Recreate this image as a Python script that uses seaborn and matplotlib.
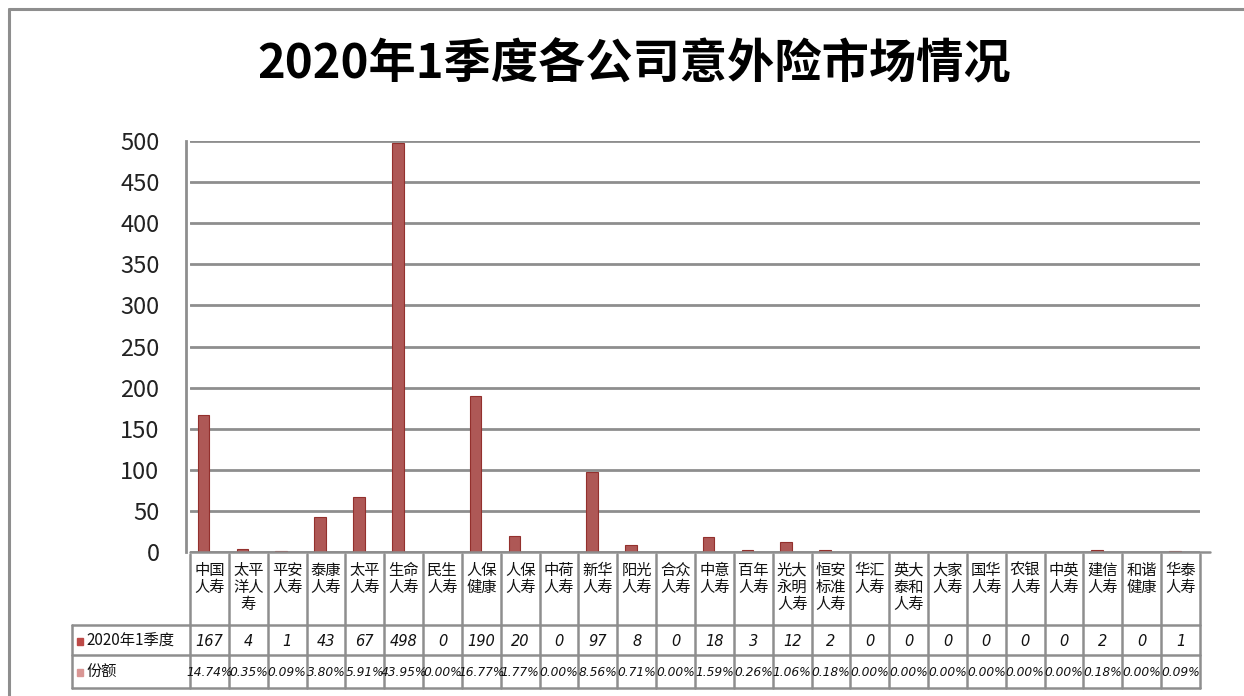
import matplotlib
matplotlib.use("Agg")
import matplotlib.pyplot as plt
import seaborn as sns
import pandas as pd
from matplotlib.lines import Line2D
from matplotlib.patches import Rectangle

companies = ["中国\n人寿", "太平\n洋人\n寿", "平安\n人寿", "泰康\n人寿", "太平\n人寿", "生命\n人寿",
             "民生\n人寿", "人保\n健康", "人保\n人寿", "中荷\n人寿", "新华\n人寿", "阳光\n人寿",
             "合众\n人寿", "中意\n人寿", "百年\n人寿", "光大\n永明\n人寿", "恒安\n标准\n人寿", "华汇\n人寿",
             "英大\n泰和\n人寿", "大家\n人寿", "国华\n人寿", "农银\n人寿", "中英\n人寿", "建信\n人寿",
             "和谐\n健康", "华泰\n人寿"]
premium = [167, 4, 1, 43, 67, 498, 0, 190, 20, 0, 97, 8, 0, 18, 3, 12, 2, 0, 0, 0, 0, 0, 0, 2, 0, 1]
share = [14.74, 0.35, 0.09, 3.80, 5.91, 43.95, 0.00, 16.77, 1.77, 0.00, 8.56, 0.71, 0.00, 1.59, 0.26,
         1.06, 0.18, 0.00, 0.00, 0.00, 0.00, 0.00, 0.00, 0.18, 0.00, 0.09]
series_names = ["2020年1季度", "份额"]
yticks = [0, 50, 100, 150, 200, 250, 300, 350, 400, 450, 500]
title = "2020年1季度各公司意外险市场情况"

colors = ["#bd4a47", "#d99694"]
grid_c = "#8e8e8e"

sns.set_theme(style="white")
plt.rcParams["font.family"] = ["Noto Sans CJK SC", "DejaVu Sans"]

W, H = 1244, 696
fig = plt.figure(figsize=(W / 100, H / 100), dpi=100)

def fx(px):
    return px / W

def fy(py):
    return 1 - py / H

# outer border
fig.add_artist(Line2D([fx(9), fx(9)], [fy(9), 0], color=grid_c, lw=2.2))
fig.add_artist(Line2D([fx(9), 1], [fy(9), fy(9)], color=grid_c, lw=2.2))

fig.text(0.5 * (fx(258) + fx(1010)), fy(64), title, ha="center", va="center",
         fontsize=34, fontweight="bold", color="black")

L, R = 190, 1200
TOP, BOT = 141, 552
ax = fig.add_axes([fx(L), fy(BOT), fx(R) - fx(L), fy(TOP) - fy(BOT)])

n = len(companies)
df = pd.DataFrame({
    "company": companies * 2,
    "series": [series_names[0]] * n + [series_names[1]] * n,
    "value": premium + [s / 100 for s in share],
})
sns.barplot(data=df, x="company", y="value", hue="series", order=companies,
            hue_order=series_names, palette=colors, width=0.6, dodge=True,
            legend=False, ax=ax, edgecolor="#93302d", linewidth=0.8)

ax.set_xlim(-0.5, n - 0.5)
ax.set_ylim(0, 500)
ax.set_yticks(yticks)
ax.set_yticklabels([str(v) for v in yticks])
ax.tick_params(axis="y", length=0, pad=19, colors="#222222", labelsize=17)
for lab in ax.get_yticklabels():
    lab.set_fontfamily(["Open Sans", "DejaVu Sans"])
    lab.set_fontsize(17)
ax.set_xticks([])
ax.set_xlabel("")
ax.set_ylabel("")
ax.yaxis.grid(True, color=grid_c, lw=2)
ax.set_axisbelow(True)
for s in ["top", "right", "bottom"]:
    ax.spines[s].set_visible(False)
ax.spines["left"].set_color(grid_c)
ax.spines["left"].set_linewidth(2)
ax.spines["left"].set_position(("outward", 3))

# table
T_TOP, T_BOT = 552, 688
tax = fig.add_axes([fx(L), fy(T_BOT), fx(R) - fx(L), fy(T_TOP) - fy(T_BOT)])
tax.set_xlim(-0.5, n - 0.5)
tax.set_ylim(T_BOT, T_TOP)
tax.axis("off")

lab_left = (72 - L) / (R - L) * n - 0.5
lw = 1.8
for i in range(n + 1):
    tax.plot([i - 0.5, i - 0.5], [T_TOP + 2, T_BOT], color=grid_c, lw=lw, clip_on=False)
for yy in [625, 655, 688]:
    tax.plot([lab_left, n - 0.5], [yy, yy], color=grid_c, lw=lw, clip_on=False)
tax.plot([lab_left, lab_left], [625, T_BOT], color=grid_c, lw=lw, clip_on=False)
tax.plot([-0.5, n - 0.5 + 0.25], [T_TOP, T_TOP], color=grid_c, lw=lw, clip_on=False)

num_font = ["DejaVu Sans"]
for i, c in enumerate(companies):
    tax.text(i, 562, c, ha="center", va="top", fontsize=11, style="italic",
             linespacing=1.0, color="#111111")
    tax.text(i, 641, str(premium[i]), ha="center", va="center", fontsize=10.5,
             style="italic", family=num_font, color="#111111")
    tax.text(i, 672, f"{share[i]:.2f}%", ha="center", va="center", fontsize=8.8,
             style="italic", family=num_font, color="#111111")

sq = 0.17
for yy, name, col in [(641, series_names[0], colors[0]), (672, series_names[1], colors[1])]:
    tax.add_patch(Rectangle((lab_left + 0.12, yy - 3.5), sq, 7, color=col, clip_on=False))
    tax.text(lab_left + 0.36, yy, name, ha="left", va="center", fontsize=11,
             style="italic", color="#111111", clip_on=False)

fig.savefig("out.png", dpi=100, facecolor="white")
